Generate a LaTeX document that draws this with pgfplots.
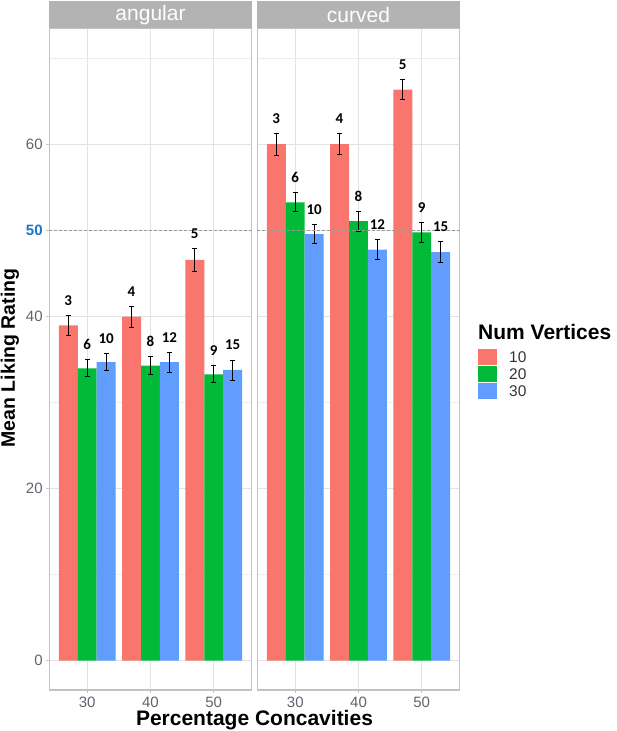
\documentclass[border=0pt]{standalone}
\usepackage{pgfplots}
\pgfplotsset{compat=1.18}
\usepackage{fontspec}
\setmainfont{Liberation Sans}
\newfontfamily\calib{Carlito}
\definecolor{cred}{HTML}{F8766D}
\definecolor{cgreen}{HTML}{00BA38}
\definecolor{cblue}{HTML}{619CFF}
\definecolor{gridc}{HTML}{E3E3E3}
\definecolor{gridm}{HTML}{EDEDED}
\definecolor{borderc}{HTML}{C2C2C2}
\definecolor{stripc}{HTML}{B3B3B3}
\definecolor{tickc}{HTML}{5F636E}
\definecolor{fiftyc}{HTML}{1C75C8}
\definecolor{dashc}{HTML}{9A9A9A}

\pgfplotsset{
  facet/.style={
    scale only axis, width=202.4pt, height=661.7pt,
    xmin=0.4, xmax=3.6, ymin=-3.41, ymax=73.53,
    xtick={1,2,3}, xticklabels={30,40,50},
    ytick={0,20,40,50,60},
    minor ytick={10,30,70},
    grid=both,
    major grid style={draw=gridc, line width=1.1pt},
    minor grid style={draw=gridm, line width=0.6pt},
    axis line style={draw=borderc, line width=1.2pt},
    tick align=outside, xtick pos=bottom, ytick pos=left,
    major tick length=3.5pt, minor tick length=0pt,
    tick style={draw=borderc, line width=0.8pt},
    /pgf/number format/assume math mode=true,
    xticklabel style={font=\fontsize{15}{18}\selectfont, text=tickc, inner sep=0pt, yshift=-3pt},
    yticklabel style={font=\fontsize{15}{18}\selectfont, text=tickc, inner sep=0pt, xshift=-3pt},
    axis on top=false,
  },
  errs/.style={error bars/.cd, y dir=both, y explicit,
    error bar style={line width=0.9pt, black},
    error mark options={rotate=90, mark size=2.4pt, line width=0.9pt, black}},
  bars/.style={ybar, bar width=0.3, bar shift=0pt, fill=#1, draw=none},
  labs/.style={draw=none, mark=none, nodes near coords, point meta=explicit symbolic,
    nodes near coords align=center,
    every node near coord/.append style={font=\calib\bfseries\fontsize{15}{18}\selectfont, inner sep=0pt, text=black}},
}

\begin{document}
\begin{tikzpicture}[x=1pt,y=1pt]
\path[use as bounding box] (0,0) rectangle (616,731);

% ---------- angular ----------
\begin{axis}[facet, at={(49.3pt,41pt)}, anchor=south west,
  yticklabels={0,20,40,{\bfseries\color{fiftyc}50},60}]
\addplot[bars=cred, errs] coordinates {(0.7,39.0) +- (0,1.15) (1.7,40.0) +- (0,1.2) (2.7,46.6) +- (0,1.35)};
\addplot[bars=cgreen, errs] coordinates {(1,34.0) +- (0,1.0) (2,34.3) +- (0,1.07) (3,33.3) +- (0,1.0)};
\addplot[bars=cblue, errs] coordinates {(1.3,34.7) +- (0,0.97) (2.3,34.7) +- (0,1.16) (3.3,33.8) +- (0,1.16)};
\addplot[dashc, line width=0.8pt, dash pattern=on 3pt off 2pt] coordinates {(0.4,50) (3.6,50)};
\addplot[labs] coordinates {(0.7,41.9)[3] (1.7,42.95)[4] (2.7,49.7)[5]
  (1,36.75)[6] (2,37.12)[8] (3,36.05)[9]
  (1.3,37.42)[10] (2.3,37.61)[12] (3.3,36.71)[15]};
\end{axis}

% ---------- curved ----------
\begin{axis}[facet, at={(257.3pt,41pt)}, anchor=south west,
  yticklabels={}, y tick style={draw=none}]
\addplot[bars=cred, errs] coordinates {(0.7,60.05) +- (0,1.28) (1.7,60.05) +- (0,1.2) (2.7,66.4) +- (0,1.2)};
\addplot[bars=cgreen, errs] coordinates {(1,53.3) +- (0,1.12) (2,51.1) +- (0,1.16) (3,49.8) +- (0,1.16)};
\addplot[bars=cblue, errs] coordinates {(1.3,49.6) +- (0,1.12) (2.3,47.8) +- (0,1.2) (3.3,47.5) +- (0,1.2)};
\addplot[dashc, line width=0.8pt, dash pattern=on 3pt off 2pt] coordinates {(0.4,50) (3.6,50)};
\addplot[labs] coordinates {(0.7,63.08)[3] (1.7,63.0)[4] (2.7,69.35)[5]
  (1,56.17)[6] (2,54.01)[8] (3,52.71)[9]
  (1.3,52.47)[10] (2.3,50.75)[12] (3.3,50.45)[15]};
\end{axis}

% ---------- strips ----------
\fill[stripc] (49.3,702.7) rectangle (251.7,730);
\fill[stripc] (257.3,702.7) rectangle (459.7,730);
\node[text=white, font=\fontsize{21}{25}\selectfont] at (150.5,716.3) {angular};
\node[text=white, font=\fontsize{21}{25}\selectfont] at (358.5,716.3) {curved};

% ---------- axis titles ----------
\node[anchor=base, font=\bfseries\fontsize{21}{25}\selectfont] at (254.5,5.3) {Percentage Concavities};
\node[rotate=90, font=\bfseries\fontsize{19.5}{23}\selectfont] at (10,373) {Mean Liking Rating};

% ---------- legend ----------
\node[anchor=base west, inner sep=0pt, font=\bfseries\fontsize{21}{25}\selectfont] at (478,391.7) {Num Vertices};
\fill[cred] (478,365.8) rectangle (497,381.8);
\fill[cgreen] (478,348.8) rectangle (497,364.8);
\fill[cblue] (478,331.8) rectangle (497,347.8);
\node[anchor=west, inner sep=0pt, text=black!80, font=\fontsize{15.5}{18}\selectfont] at (509,373.8) {10};
\node[anchor=west, inner sep=0pt, text=black!80, font=\fontsize{15.5}{18}\selectfont] at (509,356.8) {20};
\node[anchor=west, inner sep=0pt, text=black!80, font=\fontsize{15.5}{18}\selectfont] at (509,339.8) {30};
\end{tikzpicture}
\end{document}
